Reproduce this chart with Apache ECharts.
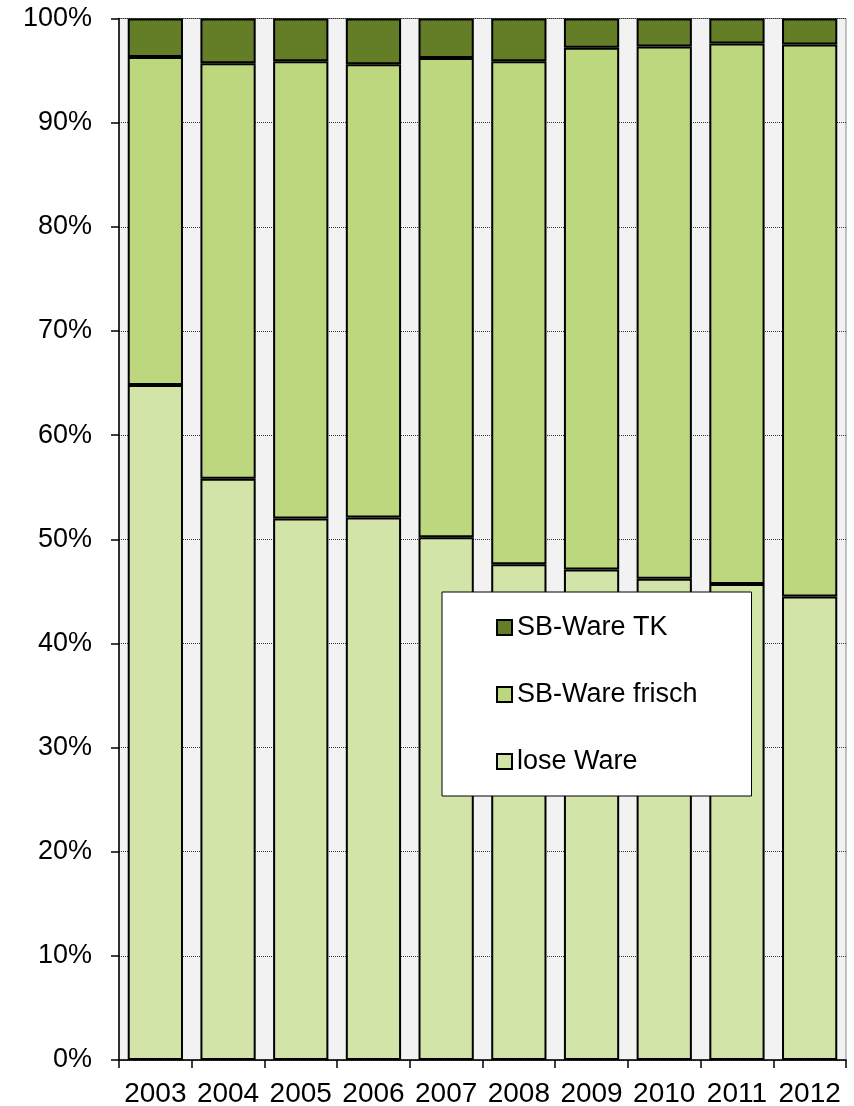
<!DOCTYPE html>
<html>
<head>
<meta charset="utf-8">
<script src="https://cdn.jsdelivr.net/npm/echarts@6/dist/echarts.min.js"></script>
<style>html,body{margin:0;padding:0;background:#fff}#c{width:854px;height:1106px}</style>
</head>
<body>
<div id="c"></div>
<script>
const categories = ['2003','2004','2005','2006','2007','2008','2009','2010','2011','2012'];
const loseWare = [64.8, 55.8, 52.0, 52.1, 50.2, 47.6, 47.1, 46.2, 45.7, 44.5];
const sbFrisch = [31.5, 39.9, 43.9, 43.5, 46.0, 48.3, 50.1, 51.1, 51.9, 53.0];
const sbTK = [3.7, 4.3, 4.1, 4.4, 3.8, 4.1, 2.8, 2.7, 2.4, 2.5];
const yTicks = [0,10,20,30,40,50,60,70,80,90,100];

const font = 'Liberation Sans, Arial, sans-serif';
const chart = echarts.init(document.getElementById('c'));
const bar = (name, data, color) => ({
  name, type: 'bar', stack: 'all', data, barCategoryGap: '24%',
  itemStyle: { color, borderColor: '#000', borderWidth: 2 },
  emphasis: { disabled: true }
});
chart.setOption({
  animation: false,
  grid: { left: 119, right: 8, top: 18.5, bottom: 46, outerBoundsMode: 'none', show: true, backgroundColor: '#F2F2F2', borderColor: '#888', borderWidth: 1 },
  legend: {
    data: ['SB-Ware TK','SB-Ware frisch','lose Ware'],
    orient: 'vertical', left: 442, top: 592, icon: 'rect',
    padding: [22, 54, 21, 54], itemGap: 40, itemWidth: 15, itemHeight: 15, itemTextGap: 6,
    backgroundColor: '#fff', borderColor: '#000', borderWidth: 1,
    textStyle: { fontFamily: font, fontSize: 27, color: '#000' },
    selectedMode: false
  },
  xAxis: {
    type: 'category', data: categories,
    axisLine: { lineStyle: { color: '#000', width: 1.5 } },
    axisTick: { show: true, length: 8, lineStyle: { color: '#000', width: 1.5 } },
    axisLabel: { fontFamily: font, fontSize: 28, color: '#000', margin: 20, interval: 0 },
    splitLine: { show: false }
  },
  yAxis: {
    type: 'value', min: 0, max: 100, interval: 10,
    axisLine: { show: true, lineStyle: { color: '#000', width: 1.5 } },
    axisTick: { show: true, length: 8, lineStyle: { color: '#000', width: 1.5 } },
    axisLabel: { fontFamily: font, fontSize: 27, color: '#000', margin: 27,
      formatter: v => yTicks.includes(v) ? v + '%' : '' },
    splitLine: { show: true, lineStyle: { color: '#333', type: 'dotted', width: 1 } }
  },
  series: [
    bar('lose Ware', loseWare, '#D3E4A8'),
    bar('SB-Ware frisch', sbFrisch, '#BCD77E'),
    bar('SB-Ware TK', sbTK, '#647D27')
  ]
});
</script>
</body>
</html>
